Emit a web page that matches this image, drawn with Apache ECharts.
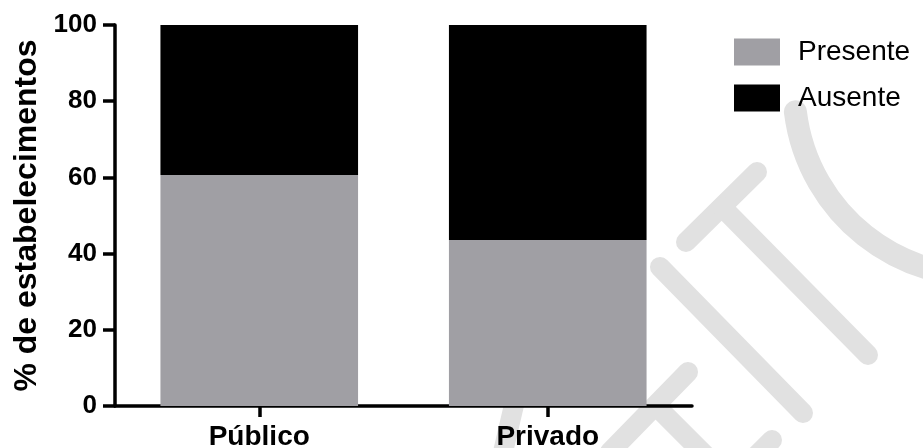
<!DOCTYPE html>
<html>
<head>
<meta charset="utf-8">
<script src="https://cdn.jsdelivr.net/npm/echarts@6/dist/echarts.min.js"></script>
<style>
html,body{margin:0;padding:0;background:#fff;}
#chart{width:923px;height:448px;}
</style>
</head>
<body>
<div id="chart"></div>
<script>
var categories = ['Público', 'Privado'];
var presente = [60.6, 43.6];
var ausente = [39.4, 56.4];
var yTicks = [0, 20, 40, 60, 80, 100];

var wm = '#e1e1e1';
function wline(x1, y1, x2, y2) {
  return { type: 'line', z: -1, silent: true,
    shape: { x1: x1, y1: y1, x2: x2, y2: y2 },
    style: { stroke: wm, lineWidth: 20, lineCap: 'round', fill: null } };
}

var chart = echarts.init(document.getElementById('chart'));
chart.setOption({
  animation: false,
  backgroundColor: '#fff',
  textStyle: { fontFamily: 'Liberation Sans, Arial, sans-serif' },
  graphic: [
    wline(660, 267, 803, 413),
    wline(686, 242, 757, 172),
    wline(722, 207, 868, 355),
    wline(688, 372, 610, 452),
    wline(660, 410, 725, 475),
    wline(772, 440, 740, 472),
    wline(514, 405, 500, 465),
    { type: 'arc', z: -1, silent: true,
      shape: { cx: 981, cy: 89, r: 187, startAngle: 60 * Math.PI / 180, endAngle: 173 * Math.PI / 180, clockwise: true },
      style: { stroke: wm, lineWidth: 23, lineCap: 'round', fill: null } }
  ],
  grid: { left: 115, right: 231, top: 25, bottom: 42, containLabel: false, outerBoundsMode: 'none' },
  legend: {
    orient: 'vertical', left: 729, top: 33,
    itemWidth: 46, itemHeight: 27, itemGap: 18,
    icon: 'rect',
    textStyle: { fontSize: 28, color: '#000', padding: [0, 0, 0, 13], fontFamily: 'Liberation Sans, Arial, sans-serif' },
    data: ['Presente', 'Ausente']
  },
  xAxis: {
    type: 'category', data: categories,
    axisLine: { lineStyle: { color: '#000', width: 3.5 } },
    axisTick: { show: true, alignWithLabel: true, length: 11, lineStyle: { color: '#000', width: 3.5 } },
    axisLabel: { fontSize: 28, fontWeight: 'bold', color: '#000', margin: 17 }
  },
  yAxis: {
    type: 'value', min: 0, max: 100, interval: 20,
    name: '% de estabelecimentos', nameLocation: 'middle', nameRotate: 90, nameGap: 72,
    nameTextStyle: { fontSize: 32, fontWeight: 'bold', color: '#000' },
    axisLine: { show: true, lineStyle: { color: '#000', width: 3.5 } },
    axisTick: { show: true, length: 12, lineStyle: { color: '#000', width: 3.5 } },
    splitLine: { show: false },
    axisLabel: { fontSize: 26, fontWeight: 'bold', color: '#000', margin: 18,
      formatter: function (v) { return yTicks.indexOf(v) >= 0 ? String(v) : ''; } }
  },
  series: [
    { name: 'Presente', type: 'bar', stack: 'a', data: presente, barWidth: '68.5%',
      itemStyle: { color: '#a09fa4' } },
    { name: 'Ausente', type: 'bar', stack: 'a', data: ausente, barWidth: '68.5%',
      itemStyle: { color: '#000000' } }
  ]
});
</script>
</body>
</html>
